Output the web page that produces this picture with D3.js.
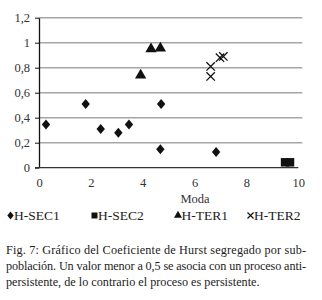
<!DOCTYPE html>
<html>
<head>
<meta charset="utf-8">
<script src="https://cdn.jsdelivr.net/npm/d3@7"></script>
<style>
  body { margin: 0; background: #fff; }
  svg text { font-family: "Liberation Serif", "Times New Roman", Times, serif; }
</style>
</head>
<body>
<svg id="chart" width="322" height="300"></svg>
<script>
// data (x = Moda, y = Hurst coefficient)
const hSec1X = [0.27, 1.80, 2.38, 3.06, 3.47, 4.68, 4.71, 6.83];
const hSec1Y = [0.345, 0.51, 0.31, 0.28, 0.345, 0.147, 0.51, 0.126];
const hSec2X = [9.49, 9.68];
const hSec2Y = [0.043, 0.043];
const hTer1X = [3.92, 4.32, 4.68];
const hTer1Y = [0.74, 0.95, 0.955];
const hTer2X = [6.62, 6.62, 6.98, 7.11];
const hTer2Y = [0.81, 0.73, 0.88, 0.89];

const seriesNames = ["H-SEC1", "H-SEC2", "H-TER1", "H-TER2"];
const xTicks = [0, 2, 4, 6, 8, 10];
const yTicks = [0, 0.2, 0.4, 0.6, 0.8, 1, 1.2];
const captionLines = [
  "Fig. 7: Gráfico del Coeficiente de Hurst segregado por sub-",
  "población. Un valor menor a 0,5 se asocia con un proceso anti-",
  "persistente, de lo contrario el proceso es persistente."
];

const svg = d3.select("#chart");

const x = d3.scaleLinear().domain([0, 10]).range([39, 298.3]);
const y = d3.scaleLinear().domain([0, 1.2]).range([167.7, 17.7]);
const fmt = d => String(d).replace(".", ",");

// gridlines
svg.append("g").selectAll("line")
  .data(yTicks.filter(d => d > 0))
  .enter().append("line")
  .attr("x1", x(0)).attr("x2", x(10) + 4)
  .attr("y1", d => y(d)).attr("y2", d => y(d))
  .attr("stroke", "#a6a6a6").attr("stroke-width", 1.4);

// y axis
const yAxis = d3.axisLeft(y).tickValues(yTicks).tickFormat(fmt)
  .tickSize(4).tickSizeOuter(0).tickPadding(5);
const yG = svg.append("g").attr("transform", `translate(${x(0)},0)`).call(yAxis);
yG.attr("font-family", null);
yG.select(".domain").attr("stroke", "#111").attr("stroke-width", 1.3);
yG.selectAll(".tick line").attr("stroke", "#111");
yG.selectAll("text").attr("font-size", 12.5).attr("fill", "#333");

// x axis
const xAxis = d3.axisBottom(x).tickValues(xTicks).tickSize(0).tickSizeOuter(0).tickPadding(10);
const xG = svg.append("g").attr("transform", `translate(0,${y(0)})`).call(xAxis);
xG.attr("font-family", null);
xG.select(".domain").attr("stroke", "#333").attr("stroke-width", 1.3)
  .attr("d", `M${x(0) - 4},0H${x(10)}`);
xG.selectAll("text").attr("font-size", 12.5).attr("fill", "#333");

svg.append("text")
  .attr("x", 195).attr("y", 202.5)
  .attr("text-anchor", "middle")
  .attr("font-size", 12.5).attr("fill", "#333")
  .text("Moda");

// markers
const diamondPath = (w, h) => `M0,${-h}L${w},0L0,${h}L${-w},0Z`;
const sym = {
  square: d3.symbol().type(d3.symbolSquare).size(72),
  triangle: d3.symbol().type(d3.symbolTriangle).size(56)
};

function points(xs, ys) { return xs.map((v, i) => ({ x: v, y: ys[i] })); }

svg.append("g").selectAll("path")
  .data(points(hSec1X, hSec1Y)).enter().append("path")
  .attr("d", diamondPath(4.2, 5))
  .attr("transform", d => `translate(${x(d.x)},${y(d.y)})`)
  .attr("fill", "#111");

svg.append("g").selectAll("path")
  .data(points(hSec2X, hSec2Y)).enter().append("path")
  .attr("d", sym.square)
  .attr("transform", d => `translate(${x(d.x)},${y(d.y)})`)
  .attr("fill", "#111");

svg.append("g").selectAll("path")
  .data(points(hTer1X, hTer1Y)).enter().append("path")
  .attr("d", sym.triangle)
  .attr("transform", d => `translate(${x(d.x)},${y(d.y)})`)
  .attr("fill", "#111");

const cross = 4.2;
svg.append("g").selectAll("path")
  .data(points(hTer2X, hTer2Y)).enter().append("path")
  .attr("d", `M${-cross},${-cross}L${cross},${cross}M${-cross},${cross}L${cross},${-cross}`)
  .attr("transform", d => `translate(${x(d.x)},${y(d.y)})`)
  .attr("fill", "none").attr("stroke", "#111").attr("stroke-width", 1.3);

// legend
const legendX = [10.5, 94.5, 178, 250.5];
const legendY = 215.5;
const legend = svg.append("g");
legend.append("path").attr("d", diamondPath(3.2, 4))
  .attr("transform", `translate(${legendX[0]},${legendY})`).attr("fill", "#111");
legend.append("path").attr("d", d3.symbol().type(d3.symbolSquare).size(36))
  .attr("transform", `translate(${legendX[1]},${legendY})`).attr("fill", "#111");
legend.append("path").attr("d", d3.symbol().type(d3.symbolTriangle).size(28))
  .attr("transform", `translate(${legendX[2]},${legendY})`).attr("fill", "#111");
legend.append("path").attr("d", "M-3,-3L3,3M-3,3L3,-3")
  .attr("transform", `translate(${legendX[3]},${legendY})`)
  .attr("stroke", "#111").attr("stroke-width", 1.2);
legend.selectAll("text").data(seriesNames).enter().append("text")
  .attr("x", (d, i) => legendX[i] + 3.5)
  .attr("y", 220)
  .attr("font-size", 13.5).attr("fill", "#222")
  .text(d => d);

// caption (justified)
svg.append("g").selectAll("text")
  .data(captionLines).enter().append("text")
  .attr("x", 6)
  .attr("y", (d, i) => 254 + i * 16)
  .attr("font-size", 12.2).attr("fill", "#222")
  .attr("textLength", (d, i) => i < 2 ? 300 : null)
  .attr("lengthAdjust", "spacing")
  .text(d => d);
</script>
</body>
</html>
